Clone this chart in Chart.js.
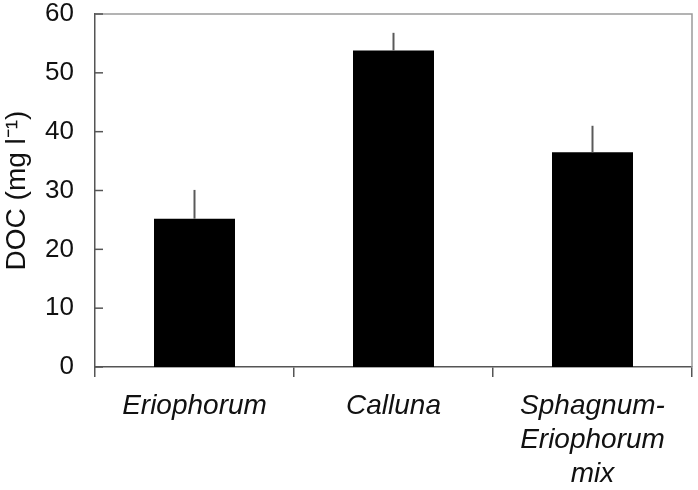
<!DOCTYPE html>
<html>
<head>
<meta charset="utf-8">
<script src="https://cdn.jsdelivr.net/npm/chart.js@4"></script>
<style>
  html, body { margin: 0; padding: 0; background: #fff; }
  #wrap { width: 698px; height: 490px; }
</style>
</head>
<body>
<div id="wrap"><canvas id="c" width="698" height="490"></canvas></div>
<script>
const categories = [['Eriophorum'], ['Calluna'], ['Sphagnum-', 'Eriophorum', 'mix']];
const docValues = [25.2, 53.8, 36.5];
const docErrors = [4.9, 3.0, 4.5];
const yTicks = [0, 10, 20, 30, 40, 50, 60];
const yTitle = 'DOC (mg l\u207B\u00B9)';

const FONT = "'Liberation Sans', Arial, Helvetica, sans-serif";

const decor = {
  id: 'decor',
  afterDatasetsDraw(chart) {
    const ctx = chart.ctx;
    const a = chart.chartArea;
    const y = chart.scales.y;
    ctx.save();
    // top & right frame
    ctx.strokeStyle = '#9a9a9a';
    ctx.lineWidth = 1.5;
    ctx.beginPath();
    ctx.moveTo(a.left, a.top);
    ctx.lineTo(a.right, a.top);
    ctx.lineTo(a.right, a.bottom);
    ctx.stroke();
    // inward y ticks
    ctx.strokeStyle = '#555';
    ctx.lineWidth = 1.5;
    y.ticks.forEach(t => {
      const py = y.getPixelForValue(t.value);
      ctx.beginPath();
      ctx.moveTo(a.left, py);
      ctx.lineTo(a.left + 8, py);
      ctx.stroke();
    });
    // error bars (upper only)
    const meta = chart.getDatasetMeta(0);
    ctx.strokeStyle = '#5a5a5a';
    ctx.lineWidth = 2;
    meta.data.forEach((el, i) => {
      const top = y.getPixelForValue(docValues[i] + docErrors[i]);
      ctx.beginPath();
      ctx.moveTo(el.x, el.y);
      ctx.lineTo(el.x, top);
      ctx.stroke();
    });
    ctx.restore();
  }
};

new Chart(document.getElementById('c'), {
  type: 'bar',
  data: {
    labels: categories,
    datasets: [{
      data: docValues,
      backgroundColor: '#000',
      borderWidth: 0,
      barPercentage: 0.407,
      categoryPercentage: 1.0
    }]
  },
  options: {
    responsive: false,
    animation: false,
    layout: { padding: { top: 14, right: 6, left: 0, bottom: 0 } },
    plugins: { legend: { display: false }, tooltip: { enabled: false } },
    scales: {
      x: {
        grid: { display: true, drawOnChartArea: false, drawTicks: true, tickLength: 10, color: '#555', lineWidth: 1.5, offset: true },
        border: { display: true, color: '#555', width: 1.5 },
        ticks: {
          color: '#111',
          padding: 12,
          maxRotation: 0,
          autoSkip: false,
          font: { family: FONT, size: 28, style: 'italic', lineHeight: 1.22 }
        },
        afterFit(s) { s.height = 123; s.paddingLeft = 0; s.paddingRight = 0; }
      },
      y: {
        min: 0, max: 60,
        afterBuildTicks(s) { s.ticks = yTicks.map(v => ({ value: v })); },
        grid: { display: false, drawTicks: false },
        border: { display: true, color: '#555', width: 1.5 },
        ticks: {
          color: '#111',
          padding: 21,
          font: { family: FONT, size: 26 }
        },
        title: {
          display: true,
          text: yTitle,
          color: '#111',
          padding: { top: 0, bottom: 0 },
          font: { family: FONT, size: 28 }
        },
        afterFit(s) { s.width = 95; s.paddingTop = 0; s.paddingBottom = 0; }
      }
    }
  },
  plugins: [decor]
});
</script>
</body>
</html>
